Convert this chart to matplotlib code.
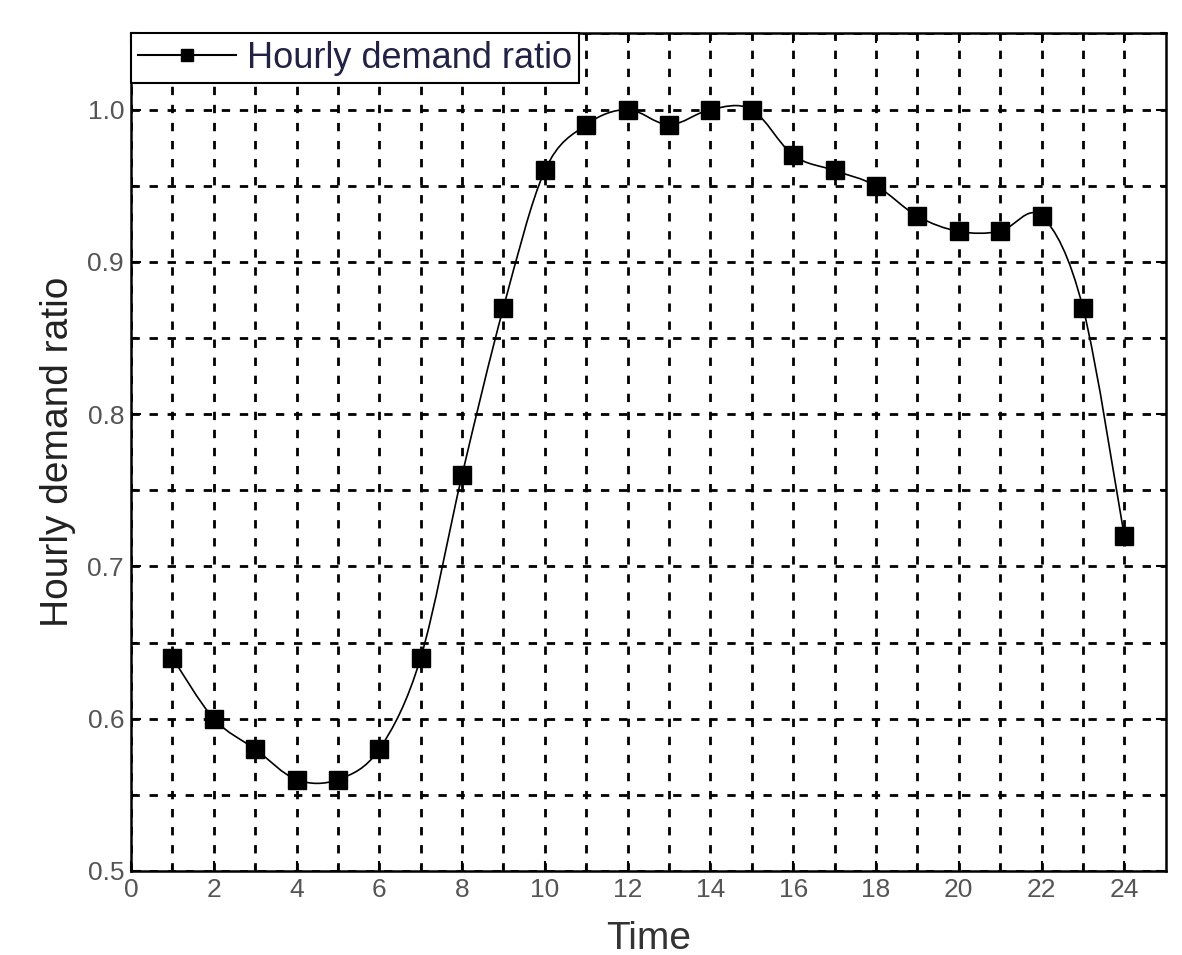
import numpy as np
import matplotlib.pyplot as plt
from matplotlib.path import Path
from matplotlib.patches import PathPatch
from matplotlib.lines import Line2D

hours = [1, 2, 3, 4, 5, 6, 7, 8, 9, 10, 11, 12, 13, 14, 15, 16, 17, 18, 19, 20, 21, 22, 23, 24]
ratio = [0.64, 0.60, 0.58, 0.56, 0.56, 0.58, 0.64, 0.76, 0.87, 0.96, 0.99, 1.00,
         0.99, 1.00, 1.00, 0.97, 0.96, 0.95, 0.93, 0.92, 0.92, 0.93, 0.87, 0.72]
xticks = [0, 2, 4, 6, 8, 10, 12, 14, 16, 18, 20, 22, 24]
yticks = [0.5, 0.6, 0.7, 0.8, 0.9, 1.0]

plt.rcParams['font.family'] = ['Liberation Sans', 'DejaVu Sans']

fig = plt.figure(figsize=(11.82, 9.55), dpi=100)
ax = fig.add_axes([0.1108, 0.088, 0.8754, 0.877])

# smooth connecting line (bezier through the points, like Origin's spline)
x = np.array(hours, dtype=float)
y = np.array(ratio)
verts = [(x[0], y[0])]
codes = [Path.MOVETO]
for i in range(len(x) - 1):
    i0 = max(i - 1, 0)
    i3 = min(i + 2, len(x) - 1)
    c1 = (x[i] + (x[i + 1] - x[i0]) / 6, y[i] + (y[i + 1] - y[i0]) / 6)
    c2 = (x[i + 1] - (x[i3] - x[i]) / 6, y[i + 1] - (y[i3] - y[i]) / 6)
    verts += [c1, c2, (x[i + 1], y[i + 1])]
    codes += [Path.CURVE4] * 3
ax.add_patch(PathPatch(Path(verts, codes), fill=False, edgecolor='black', lw=1.2, zorder=3))
ax.plot(hours, ratio, ls='none', marker='s', ms=13, color='black', zorder=4)

ax.set_xlim(0, 25)
ax.set_ylim(0.5, 1.05)
ax.set_xticks(xticks)
ax.set_xticks(np.arange(1, 25, 2), minor=True)
ax.set_yticks(yticks)
ax.set_yticks([0.55, 0.65, 0.75, 0.85, 0.95, 1.05], minor=True)
ax.set_yticklabels(['0.5', '0.6', '0.7', '0.8', '0.9', '1.0'])

ax.grid(True, which='both', color='black', ls=(0, (3, 3.5)), lw=2)
ax.tick_params(which='both', direction='in', top=True, right=True, width=1.5,
               labelsize=19, labelcolor='#555555', color='black')
ax.tick_params(which='major', length=7, pad=5)
ax.tick_params(which='minor', length=4)
for s in ax.spines.values():
    s.set_linewidth(1.8)

ax.set_xlabel('Time', fontsize=28, color='#333333', labelpad=14)
ax.set_ylabel('Hourly demand ratio', fontsize=28, color='#222222', labelpad=8)

h = Line2D([], [], color='black', lw=1.5, marker='s', ms=9)
leg = ax.legend([h], ['Hourly demand ratio'], loc='upper left', bbox_to_anchor=(0, 1),
                borderaxespad=0, fontsize=26, handlelength=2.7, handletextpad=0.3,
                borderpad=0.2, fancybox=False, framealpha=1, edgecolor='black')
leg.get_frame().set_linewidth(1.5)
for t in leg.get_texts():
    t.set_color('#222244')

fig.savefig('out.png', dpi=100)
